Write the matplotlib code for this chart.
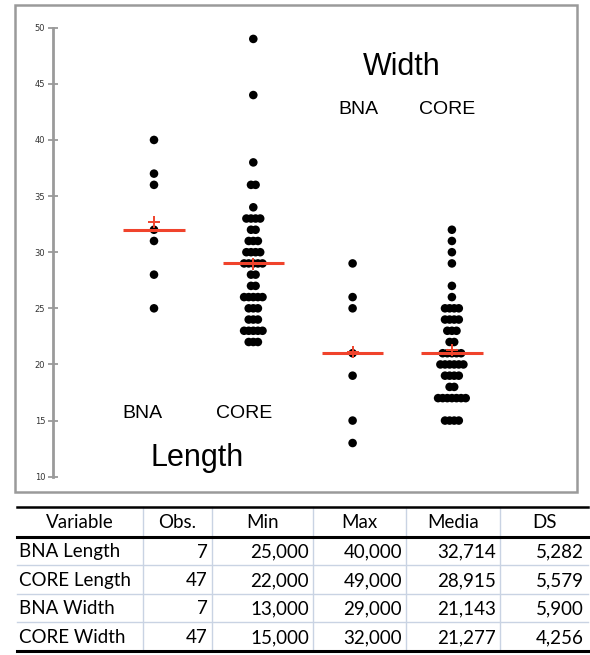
import numpy as np
import matplotlib
matplotlib.use("Agg")
import matplotlib.pyplot as plt
from matplotlib.patches import Rectangle

# dot plot values
bna_length = [40, 37, 36, 32, 31, 28, 25]
core_length = ([49, 44, 38] + [36] * 2 + [34] + [33] * 4 + [32] * 2 + [31] * 3 + [30] * 4
               + [29] * 5 + [28] * 2 + [27] * 2 + [26] * 5 + [25] * 3 + [24] * 3
               + [23] * 5 + [22] * 3)
bna_width = [29, 26, 25, 21, 19, 15, 13]
core_width = ([32, 31, 30, 29, 27, 26] + [25] * 4 + [24] * 4 + [23] * 3 + [22] * 2
              + [21] * 5 + [20] * 6 + [19] * 4 + [18] * 2 + [17] * 7 + [15] * 4)
groups = [bna_length, core_length, bna_width, core_width]

# summary table
tab_header = ["Variable", "Obs.", "Min", "Max", "Media", "DS"]
tab_vars = ["BNA Length", "CORE Length", "BNA Width", "CORE Width"]
tab_obs = ["7", "47", "7", "47"]
tab_min = ["25,000", "22,000", "13,000", "15,000"]
tab_max = ["40,000", "49,000", "29,000", "32,000"]
tab_media = ["32,714", "28,915", "21,143", "21,277"]
tab_ds = ["5,282", "5,579", "5,900", "4,256"]

W, H = 590, 655
fig = plt.figure(figsize=(W / 100, H / 100), dpi=100)

# overlay in pixel coords for frame, labels and table
ov = fig.add_axes([0, 0, 1, 1])
ov.set_xlim(0, W)
ov.set_ylim(H, 0)
ov.axis("off")

ov.add_patch(Rectangle((15, 5), 562, 487, fill=False, edgecolor="#9a9a9a", lw=1.8))

# dot plot axes
ax = fig.add_axes([53 / W, (H - 476.7) / H, (577 - 53) / W, (476.7 - 27.7) / H])
ax.patch.set_alpha(0)
px = 99.3  # pixels per x unit
ax.set_xlim(1 - (154 - 53) / px, 1 + (577 - 154) / px)
ax.set_ylim(10, 50)
for s in ["top", "right", "bottom"]:
    ax.spines[s].set_visible(False)
ax.spines["left"].set_color("#9a9a9a")
ax.spines["left"].set_linewidth(2)
ax.set_xticks([])
ax.set_yticks(range(10, 51, 5))
ax.tick_params(axis="y", direction="inout", length=7, width=1.3, color="#9a9a9a",
               labelsize=6, labelcolor="#333333", pad=2)

step = 4.6 / px
for i, vals in enumerate(groups):
    xc = i + 1
    xs, ys = [], []
    for v in sorted(set(vals)):
        n = vals.count(v)
        for k in range(n):
            xs.append(xc + (k - (n - 1) / 2) * step)
            ys.append(v)
    ax.scatter(xs, ys, s=38, color="black", edgecolors="none", zorder=3)
    ax.hlines(np.median(vals), xc - 0.31, xc + 0.31, color="#f0432c", lw=2.2, zorder=4)
    ax.plot(xc, np.mean(vals), marker="+", color="#f0432c", ms=9, mew=1.4, zorder=5)

lab = dict(family="Liberation Sans", ha="center", va="center", color="black")
ov.text(402, 67, "Width", fontsize=22, **lab)
ov.text(358, 109, "BNA", fontsize=14, **lab)
ov.text(447, 109, "CORE", fontsize=14, **lab)
ov.text(142, 414, "BNA", fontsize=14, **lab)
ov.text(244, 414, "CORE", fontsize=14, **lab)
ov.text(197, 458, "Length", fontsize=22, **lab)

# table
col_edges = [17, 143, 212, 313, 406, 500, 588]
row_edges = [507, 537, 565, 594, 622, 651]
light = "#c9d3e3"
for x in col_edges[1:-1]:
    ov.plot([x, x], [row_edges[0], row_edges[-1]], color=light, lw=1)
for y in row_edges[2:-1]:
    ov.plot([col_edges[0], col_edges[-1]], [y, y], color=light, lw=1)
ov.plot([col_edges[0], col_edges[-1]], [row_edges[0], row_edges[0]], color="black", lw=1.8)
ov.plot([col_edges[0], col_edges[-1]], [row_edges[1], row_edges[1]], color="black", lw=2.2)
ov.plot([col_edges[0], col_edges[-1]], [row_edges[-1], row_edges[-1]], color="black", lw=2.2)

tf = dict(family="Lato", fontsize=13.5, color="black", va="center")
for j, h in enumerate(tab_header):
    ov.text((col_edges[j] + col_edges[j + 1]) / 2, (row_edges[0] + row_edges[1]) / 2 + 1, h,
            ha="center", **tf)
cols = [tab_obs, tab_min, tab_max, tab_media, tab_ds]
for r in range(4):
    yc = (row_edges[r + 1] + row_edges[r + 2]) / 2 + 1
    ov.text(col_edges[0] + 2, yc, tab_vars[r], ha="left", **tf)
    for j, c in enumerate(cols):
        ov.text(col_edges[j + 2] - 4, yc, c[r], ha="right", **tf)

fig.savefig("out.png", dpi=100)
